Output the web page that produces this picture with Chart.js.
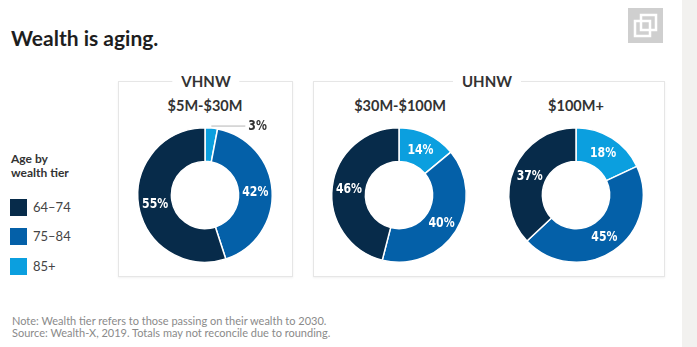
<!DOCTYPE html>
<html>
<head>
<meta charset="utf-8">
<script src="https://cdn.jsdelivr.net/npm/chart.js@4"></script>
<style>
  html, body { margin:0; padding:0; }
  body { width:697px; height:347px; background:#fff; position:relative; overflow:hidden; font-family: Lato, "Open Sans", sans-serif; color:#222; }
  .strip { position:absolute; left:682px; top:0; width:15px; height:347px; background:#f2f1ef; }
  .title { position:absolute; left:11px; top:25px; font-size:21px; font-weight:700; color:#1e1e1e; white-space:nowrap; }
  .icon { position:absolute; left:628px; top:8px; width:35px; height:35px; }
  .box { position:absolute; top:81px; height:194px; border:1px solid #e6e6e6; box-shadow:0 1px 2px rgba(0,0,0,0.06); }
  .boxlabel { position:absolute; top:-10px; transform:translateX(-50%); background:#fff; padding:0 9px; font-size:15px; font-weight:700; color:#333; white-space:nowrap; line-height:18px; }
  .sub { position:absolute; top:97px; transform:translateX(-50%); font-size:14.5px; font-weight:700; color:#333; white-space:nowrap; }
  .ltitle { position:absolute; left:11px; top:152px; font-size:12px; font-weight:700; color:#333; line-height:14px; }
  .litem { position:absolute; left:10px; height:17px; }
  .sw { position:absolute; left:0; top:0; width:17px; height:17px; }
  .lt { position:absolute; left:23px; top:0; font-size:13px; line-height:17px; color:#444; white-space:nowrap; font-weight:400; }
  .note { position:absolute; left:12px; top:315px; font-size:11px; line-height:11.5px; color:#8a8a8a; white-space:nowrap; }
  canvas { position:absolute; }
</style>
</head>
<body>
<div class="strip"></div>
<div class="title">Wealth is aging.</div>
<svg class="icon" viewBox="0 0 35 35" width="35" height="35">
  <rect x="0" y="0" width="35" height="35" fill="#cfcfcf"/>
  <rect x="13" y="7" width="15" height="15" fill="none" stroke="#fff" stroke-width="2.5"/>
  <rect x="7" y="13" width="15" height="15" fill="none" stroke="#fff" stroke-width="2.5"/>
</svg>

<div class="box" style="left:118px; width:173px;"><div class="boxlabel" style="left:87px;">VHNW</div></div>
<div class="box" style="left:313px; width:350px;"><div class="boxlabel" style="left:173px;">UHNW</div></div>

<div class="sub" style="left:205px;">$5M-$30M</div>
<div class="sub" style="left:400px;">$30M-$100M</div>
<div class="sub" style="left:576px;">$100M+</div>

<div class="ltitle">Age by<br>wealth tier</div>
<div id="legend"></div>

<div class="note">Note: Wealth tier refers to those passing on their wealth to 2030.<br>Source: Wealth-X, 2019. Totals may not reconcile due to rounding.</div>

<canvas id="c1" width="160" height="160" style="left:125px; top:115px;"></canvas>
<canvas id="c2" width="160" height="160" style="left:319px; top:115px;"></canvas>
<canvas id="c3" width="160" height="160" style="left:496px; top:115px;"></canvas>

<script>
// Age groups in clockwise order from 12 o'clock
const ageGroups = ['85+', '75–84', '64–74'];
const ageColors = ['#0b9fdf', '#0460a8', '#072b4a'];
// Legend order (top to bottom)
const legendOrder = ['64–74', '75–84', '85+'];
// Wealth tiers
const tiers = ['$5M-$30M', '$30M-$100M', '$100M+'];
// Share of each age group (%) per tier, same order as ageGroups
const share5to30 = [3, 42, 55];
const share30to100 = [14, 40, 46];
const share100plus = [18, 45, 37];

// legend
const leg = document.getElementById('legend');
const legTops = [199, 228, 258];
legendOrder.forEach((g, i) => {
  const d = document.createElement('div');
  d.className = 'litem';
  d.style.top = legTops[i] + 'px';
  const col = ageColors[ageGroups.indexOf(g)];
  d.innerHTML = '<div class="sw" style="background:' + col + '"></div><div class="lt">' + g + '</div>';
  leg.appendChild(d);
});

const pctFont = '700 14px "DejaVu Sans", sans-serif';
const squeeze = 0.78;

function condensedText(ctx, txt, x, y, align) {
  ctx.save();
  ctx.translate(x, y);
  ctx.scale(squeeze, 1);
  ctx.textAlign = align;
  ctx.textBaseline = 'middle';
  ctx.fillText(txt, 0, 0);
  ctx.restore();
}

const labelPlugin = {
  id: 'pctLabels',
  afterDatasetsDraw(chart) {
    const ctx = chart.ctx;
    const meta = chart.getDatasetMeta(0);
    const data = chart.data.datasets[0].data;
    ctx.save();
    ctx.font = pctFont;
    meta.data.forEach((arc, i) => {
      const v = data[i];
      const txt = v + '%';
      if (v < 6) {
        const mid = (arc.startAngle + arc.endAngle) / 2;
        const px = arc.x + Math.cos(mid) * arc.outerRadius;
        const py = arc.y + Math.sin(mid) * arc.outerRadius - 2;
        ctx.strokeStyle = '#b5b5b5';
        ctx.lineWidth = 1;
        ctx.beginPath();
        ctx.moveTo(px, py);
        ctx.lineTo(px + 34, py);
        ctx.stroke();
        ctx.fillStyle = '#333';
        condensedText(ctx, txt, px + 37, py, 'left');
      } else {
        const p = arc.tooltipPosition();
        ctx.fillStyle = '#fff';
        condensedText(ctx, txt, p.x, p.y + 1, 'center');
      }
    });
    ctx.restore();
  }
};

function makeDonut(id, values, label) {
  new Chart(document.getElementById(id), {
    type: 'doughnut',
    data: {
      labels: ageGroups,
      datasets: [{
        label: label,
        data: values,
        backgroundColor: ageColors,
        borderColor: '#ffffff',
        borderWidth: 1.5
      }]
    },
    options: {
      responsive: false,
      animation: false,
      devicePixelRatio: 1,
      cutout: '50%',
      layout: { padding: 12 },
      plugins: { legend: { display: false }, tooltip: { enabled: false } }
    },
    plugins: [labelPlugin]
  });
}

makeDonut('c1', share5to30, tiers[0]);
makeDonut('c2', share30to100, tiers[1]);
makeDonut('c3', share100plus, tiers[2]);
</script>
</body>
</html>
